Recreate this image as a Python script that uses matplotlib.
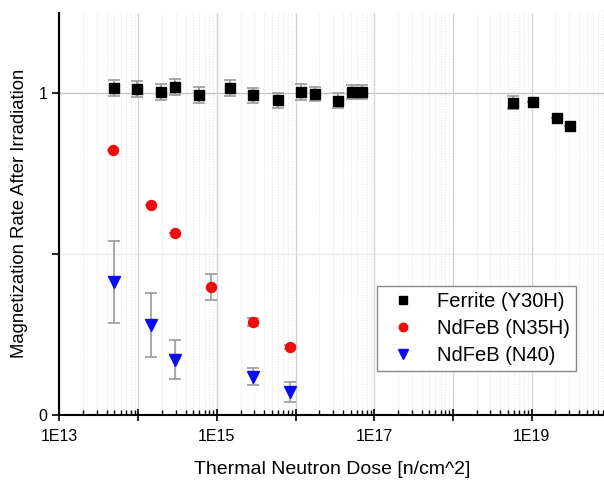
import matplotlib
matplotlib.use("Agg")
import matplotlib.pyplot as plt
import numpy as np
from matplotlib.ticker import LogLocator, FuncFormatter, FixedLocator, NullFormatter

plt.rcParams['font.family'] = ['Liberation Sans', 'DejaVu Sans']

ferrite_x = [4.9e13, 9.7e13, 1.95e14, 2.9e14, 5.9e14, 1.47e15, 2.9e15, 5.9e15,
             1.17e16, 1.78e16, 3.5e16, 5.2e16, 7.0e16, 5.8e18, 1.03e19, 2.09e19, 3.09e19]
ferrite_y = [1.017, 1.012, 1.003, 1.020, 0.993, 1.017, 0.993, 0.978,
             1.003, 0.998, 0.977, 1.003, 1.003, 0.971, 0.974, 0.922, 0.897]
ferrite_err = [0.025, 0.025, 0.025, 0.025, 0.025, 0.025, 0.022, 0.024,
               0.024, 0.022, 0.024, 0.022, 0.022, 0.02, 0.0, 0.0, 0.0]

n35h_x = [4.8e13, 1.45e14, 2.9e14, 8.5e14, 2.9e15, 8.6e15]
n35h_y = [0.822, 0.653, 0.565, 0.397, 0.288, 0.212]
n35h_err = [0.0, 0.0, 0.0, 0.04, 0.012, 0.006]

n40_x = [4.9e13, 1.45e14, 2.9e14, 2.9e15, 8.6e15]
n40_y = [0.413, 0.279, 0.172, 0.119, 0.072]
n40_err = [0.127, 0.10, 0.06, 0.027, 0.031]

labels = ["Ferrite (Y30H)", "NdFeB (N35H)", "NdFeB (N40)"]

fig = plt.figure(figsize=(6.04, 4.8), dpi=100)
ax = fig.add_axes([0.0985, 0.1354, 0.9015, 0.8381])

ax.set_xscale('log')
ax.set_xlim(1e13, 10**19.92)
ax.set_ylim(0, 1.25)

# grid
ax.xaxis.set_major_locator(FixedLocator([10.0**k for k in range(13, 20)]))
ax.xaxis.set_minor_locator(LogLocator(base=10, subs=np.arange(2, 10), numticks=50))
ax.grid(True, which='major', axis='x', color='#d4d4d4', lw=1.0, zorder=0)
ax.grid(True, which='minor', axis='x', color='#e6e6e6', lw=0.8, ls=(0, (1, 1.5)), zorder=0)
ax.set_yticks([0, 0.5, 1])
ax.set_yticklabels(['0', '', '1'])
ax.axhline(1.0, color='#c4c4c4', lw=1.0, zorder=0)
ax.axhline(0.5, color='#ececec', lw=1.0, zorder=0)

def fmt(v, pos):
    e = int(round(np.log10(v)))
    return f"1E{e}" if e % 2 == 1 else ""
ax.xaxis.set_major_formatter(FuncFormatter(fmt))
ax.xaxis.set_minor_formatter(NullFormatter())

ax.tick_params(axis='x', which='major', direction='inout', length=8, width=1.2, labelsize=11.5, pad=6)
ax.tick_params(axis='x', which='minor', direction='in', length=3.5, width=1.0)
ax.tick_params(axis='y', which='major', direction='out', length=5, width=1.2, labelsize=11.5)

for s in ['top', 'right']:
    ax.spines[s].set_visible(False)
for s in ['left', 'bottom']:
    ax.spines[s].set_linewidth(1.5)

ecol = '#9a9a9a'
ax.errorbar(ferrite_x, ferrite_y, yerr=ferrite_err, fmt='s', color='black', ms=6.5,
            ecolor=ecol, elinewidth=1.2, capsize=4, capthick=1.2, zorder=3, label=labels[0])
ax.errorbar(n35h_x, n35h_y, yerr=n35h_err, fmt='o', color='#ee0c0c', ms=7.2,
            ecolor=ecol, elinewidth=1.2, capsize=4, capthick=1.2, zorder=3, label=labels[1])
ax.errorbar(n40_x, n40_y, yerr=n40_err, fmt='v', color='#0a0af5', ms=8,
            ecolor=ecol, elinewidth=1.2, capsize=4, capthick=1.2, zorder=3, label=labels[2])

handles, labs = ax.get_legend_handles_labels()
handles = [h[0] for h in handles]
leg = ax.legend(handles, labs, loc='upper left', bbox_to_anchor=(0.5826, 0.3214),
                borderaxespad=0, fontsize=14.5, fancybox=False, edgecolor='#888888',
                framealpha=1, handletextpad=0.7, handlelength=2.0, labelspacing=0.4,
                borderpad=0.3, markerscale=0.85)
leg.get_frame().set_linewidth(1.0)

ax.set_xlabel("Thermal Neutron Dose [n/cm^2]", fontsize=14, labelpad=12)
ax.set_ylabel("Magnetization Rate After Irradiation", fontsize=13.3, labelpad=8)

fig.savefig("out.png", dpi=100)
